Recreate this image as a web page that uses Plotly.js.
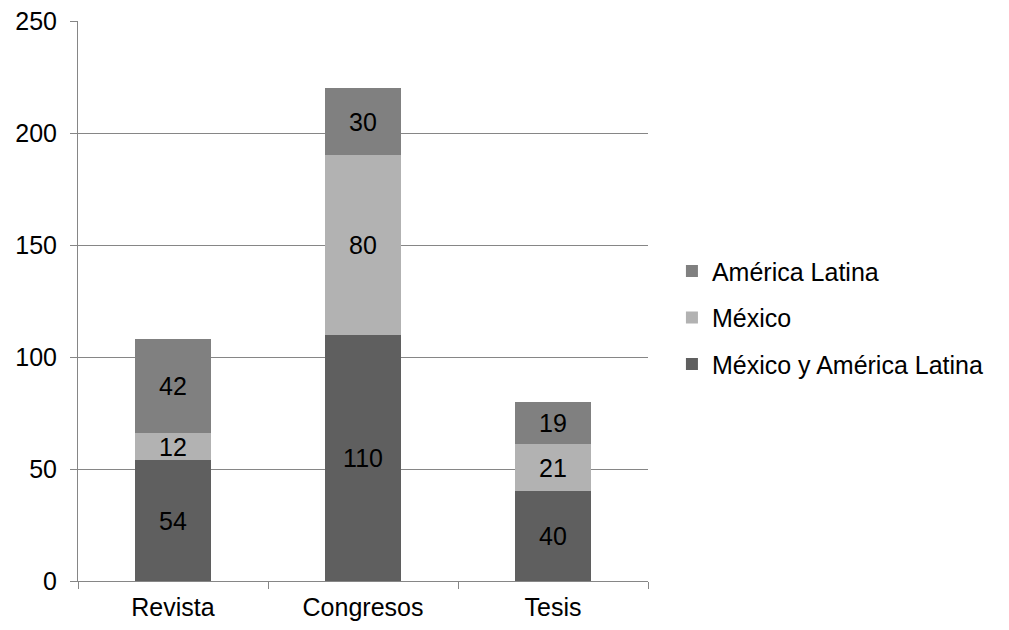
<!DOCTYPE html>
<html>
<head>
<meta charset="utf-8">
<script src="https://cdn.plot.ly/plotly-3.0.1.min.js"></script>
<style>html,body{margin:0;padding:0;background:#fff;}#chart{width:1009px;height:630px;}</style>
</head>
<body>
<div id="chart"></div>
<script>
const categories = ["Revista", "Congresos", "Tesis"];
const mexicoYAmerica = [54, 110, 40];
const mexico = [12, 80, 21];
const americaLatina = [42, 30, 19];
const yTicks = [0, 50, 100, 150, 200, 250];

const font = "Liberation Sans, Arial, sans-serif";
function mk(name, vals, color, grp, rank) {
  return {
    type: "bar", name: name, x: categories, y: vals,
    marker: {color: color, line: {width: 0}},
    text: vals.map(String), textposition: "inside", insidetextanchor: "middle",
    textangle: 0,
    textfont: {family: font, size: 25, color: "#000"},
    constraintext: "none", hoverinfo: "skip", legendgroup: grp, legendrank: rank
  };
}
const data = [
  mk("México y América Latina", mexicoYAmerica, "#5f5f5f", "a", 3),
  mk("México", mexico, "#b2b2b2", "b", 2),
  mk("América Latina", americaLatina, "#808080", "c", 1)
];
const layout = {
  width: 1009, height: 630,
  margin: {l: 78, r: 361, t: 21, b: 49},
  barmode: "stack", bargap: 0.605,
  paper_bgcolor: "#fff", plot_bgcolor: "#fff",
  font: {family: font, size: 25, color: "#000"},
  uniformtext: {mode: false},
  xaxis: {
    type: "category", tickson: "boundaries", ticks: "outside", ticklen: 7,
    tickcolor: "#868686", showline: true, linecolor: "#868686", showgrid: false,
    tickfont: {family: font, size: 25, color: "#000"}, ticklabelstandoff: 4
  },
  yaxis: {
    range: [0, 250], tickvals: yTicks, ticks: "outside", ticklen: 7,
    tickcolor: "#868686", showline: true, linecolor: "#868686",
    gridcolor: "#868686", gridwidth: 1, zeroline: false,
    tickfont: {family: font, size: 25, color: "#000"}, ticklabelstandoff: 8
  },
  showlegend: true,
  legend: {
    x: 1.042, xanchor: "left", y: 0.47, yanchor: "middle",
    traceorder: "grouped", tracegroupgap: 11,
    font: {family: font, size: 25, color: "#000"}
  }
};
Plotly.newPlot("chart", data, layout, {displayModeBar: false, staticPlot: true});
</script>
</body>
</html>
